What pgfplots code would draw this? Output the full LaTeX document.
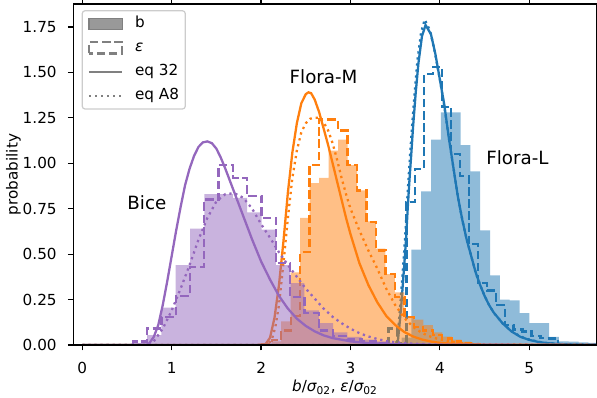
\documentclass[border=0pt]{standalone}
\usepackage{fontspec}
\setmainfont{DejaVu Sans}
\usepackage{pgfplots}
\pgfplotsset{compat=1.18}

\definecolor{cL}{HTML}{1F77B4}
\definecolor{cM}{HTML}{FF7F0E}
\definecolor{cB}{HTML}{9467BD}
\definecolor{lgray}{HTML}{808080}
\definecolor{frame}{HTML}{CCCCCC}

\newcommand{\lgfont}{\fontsize{11}{13}\selectfont}

\pgfplotsset{
  hfill/.style={const plot, draw=none, fill=#1, fill opacity=0.5, forget plot},
  hstep/.style={const plot, draw=#1, line width=1.65pt, dash pattern=on 6.1pt off 2.64pt, forget plot},
  eqA/.style={draw=#1, line width=1.65pt, forget plot},
  eqB/.style={draw=#1, line width=1.65pt, dash pattern=on 1.65pt off 2.72pt, forget plot},
}

\begin{document}
\begin{tikzpicture}
\begin{axis}[
  scale only axis, width=5.232in, height=3.41in,
  xmin=-0.1007, xmax=5.752, ymin=0, ymax=1.876,
  axis on top,
  axis line style={line width=0.88pt},
  tick align=outside, major tick length=3.85pt,
  tick style={line width=0.88pt, black},
  xtick={0,1,2,3,4,5},
  ytick={0,0.25,0.5,0.75,1,1.25,1.5,1.75},
  /pgf/number format/assume math mode=true,
  ticklabel style={font=\lgfont},
  xticklabel style={anchor=north, inner sep=0pt, yshift=-8.2pt},
  yticklabel style={anchor=east, inner sep=0pt, xshift=-8pt,
    /pgf/number format/fixed, /pgf/number format/fixed zerofill, /pgf/number format/precision=2},
  label style={font=\lgfont},
  xlabel={{\itshape b}/{\itshape σ}\textsubscript{02}, {\itshape ε}/{\itshape σ}\textsubscript{02}},
  ylabel={probability},
  xlabel style={at={(axis description cs:0.5,-0.124)}, anchor=center},
  ylabel style={at={(axis description cs:-0.1143,0.5)}, anchor=center},
  legend cell align=left,
  legend style={at={(axis description cs:0.016,0.982)}, anchor=north west,
    draw=frame, line width=0.88pt, rounded corners=2pt, fill=white, fill opacity=0.8, text opacity=1,
    font=\lgfont, inner xsep=4pt, inner ysep=3.5pt,
    row sep=5.6pt, column sep=8pt,
    nodes={inner sep=0.5pt, text height=8.2pt, text depth=2.6pt}},
]

% ---- Flora-L ----
\addplot[hfill=cL] coordinates {(3.461,0.005) (3.571,0.04) (3.681,0.525) (3.791,0.845) (3.901,1.13) (4.011,1.28) (4.121,1.28) (4.231,1.10) (4.341,0.955) (4.451,0.63) (4.561,0.383) (4.671,0.25) (4.781,0.245) (4.891,0.175) (5.001,0.12) (5.111,0.12) (5.221,0.045) (5.331,0.02) (5.441,0.018) (5.551,0.015) (5.661,0.012) (5.771,0)} \closedcycle;
\addplot[hstep=cL] coordinates {(3.425,0) (3.425,0.09) (3.525,0.01) (3.625,0.786) (3.725,0.97) (3.825,1.49) (3.925,1.53) (4.025,1.31) (4.125,1.05) (4.225,0.93) (4.325,0.555) (4.425,0.34) (4.525,0.30) (4.625,0.22) (4.725,0.11) (4.825,0.085) (4.925,0.075) (5.025,0.05) (5.125,0.037) (5.225,0.035) (5.325,0)};
\addplot[eqA=cL] coordinates {(0,0) (3.40,0) (3.50,0.003) (3.53,0.02) (3.55,0.12) (3.57,0.23) (3.60,0.43) (3.62,0.57) (3.64,0.75) (3.66,0.91) (3.68,1.05) (3.70,1.20) (3.73,1.39) (3.76,1.55) (3.80,1.70) (3.84,1.76) (3.90,1.71) (3.95,1.60) (4.00,1.46) (4.05,1.32) (4.10,1.14) (4.15,0.98) (4.20,0.82) (4.25,0.69) (4.30,0.58) (4.35,0.49) (4.40,0.40) (4.45,0.33) (4.50,0.27) (4.55,0.22) (4.60,0.18) (4.70,0.12) (4.80,0.075) (4.90,0.045) (5.00,0.028) (5.10,0.017) (5.20,0.01) (5.40,0.004) (5.70,0.001) (6.00,0)};
\addplot[eqB=cL] coordinates {(0,0) (3.40,0) (3.49,0.003) (3.52,0.02) (3.54,0.12) (3.56,0.24) (3.59,0.44) (3.61,0.58) (3.63,0.76) (3.65,0.92) (3.67,1.07) (3.69,1.21) (3.72,1.40) (3.75,1.57) (3.79,1.72) (3.83,1.79) (3.89,1.73) (3.94,1.62) (4.00,1.46) (4.05,1.31) (4.10,1.14) (4.15,0.98) (4.20,0.82) (4.25,0.69) (4.30,0.58) (4.35,0.49) (4.40,0.40) (4.45,0.33) (4.50,0.27) (4.55,0.22) (4.60,0.18) (4.70,0.12) (4.80,0.077) (4.90,0.047) (5.00,0.03) (5.10,0.018) (5.20,0.011) (5.40,0.004) (5.70,0.001) (6.00,0)};

% ---- Flora-M ----
\addplot[hfill=cM] coordinates {(2.013,0.005) (2.119,0.02) (2.225,0.13) (2.331,0.40) (2.437,0.70) (2.543,0.89) (2.649,0.92) (2.755,1.07) (2.861,1.13) (2.967,0.99) (3.073,0.85) (3.179,0.68) (3.285,0.53) (3.391,0.39) (3.497,0.29) (3.603,0.155) (3.709,0.14) (3.815,0.11) (3.921,0.07) (4.027,0.046) (4.133,0.03) (4.239,0.018) (4.345,0.01) (4.451,0.005) (4.557,0)} \closedcycle;
\addplot[hstep=cM] coordinates {(2.013,0) (2.013,0.005) (2.119,0.027) (2.225,0.08) (2.331,0.16) (2.437,0.51) (2.543,0.99) (2.649,1.24) (2.755,1.24) (2.861,1.18) (2.967,0.99) (3.073,0.85) (3.179,0.675) (3.285,0.52) (3.391,0.39) (3.497,0.265) (3.603,0.155) (3.709,0.10) (3.815,0.08) (3.921,0.055) (4.027,0.035) (4.133,0.02) (4.239,0.012) (4.345,0.006) (4.451,0)};
\addplot[eqA=cM] coordinates {(0,0) (1.95,0) (2.05,0.005) (2.10,0.04) (2.15,0.15) (2.20,0.33) (2.25,0.57) (2.30,0.84) (2.35,1.06) (2.40,1.22) (2.45,1.33) (2.50,1.38) (2.53,1.39) (2.56,1.385) (2.60,1.35) (2.65,1.28) (2.70,1.19) (2.75,1.10) (2.80,1.00) (2.85,0.90) (2.90,0.80) (2.95,0.70) (3.00,0.61) (3.10,0.45) (3.20,0.33) (3.30,0.235) (3.40,0.16) (3.50,0.11) (3.60,0.072) (3.70,0.047) (3.80,0.03) (3.90,0.019) (4.00,0.012) (4.20,0.005) (4.50,0.0015) (6.00,0)};
\addplot[eqB=cM] coordinates {(0,0) (2.00,0) (2.08,0.005) (2.12,0.03) (2.16,0.10) (2.20,0.22) (2.25,0.45) (2.30,0.70) (2.35,0.92) (2.40,1.07) (2.45,1.17) (2.50,1.22) (2.55,1.245) (2.60,1.25) (2.65,1.25) (2.70,1.225) (2.75,1.18) (2.80,1.11) (2.85,1.02) (2.90,0.92) (2.95,0.83) (3.00,0.75) (3.10,0.63) (3.20,0.52) (3.30,0.42) (3.40,0.31) (3.50,0.22) (3.60,0.15) (3.70,0.10) (3.80,0.066) (3.90,0.045) (4.00,0.03) (4.20,0.012) (4.50,0.003) (6.00,0)};

% ---- Bice ----
\addplot[hfill=cB] coordinates {(0.565,0.01) (0.725,0.055) (0.885,0.205) (1.045,0.44) (1.205,0.64) (1.365,0.83) (1.525,0.83) (1.685,0.81) (1.845,0.73) (2.005,0.635) (2.165,0.44) (2.325,0.34) (2.485,0.19) (2.645,0.12) (2.805,0.07) (2.965,0.045) (3.125,0.03) (3.285,0.02) (3.445,0.01) (3.605,0.005) (3.765,0)} \closedcycle;
\addplot[hstep=cB] coordinates {(0.565,0) (0.565,0.02) (0.725,0.09) (0.885,0.155) (1.045,0.27) (1.205,0.43) (1.365,0.80) (1.525,0.99) (1.685,0.92) (1.845,0.82) (2.005,0.70) (2.165,0.45) (2.325,0.265) (2.485,0.175) (2.645,0.08) (2.805,0.05) (2.965,0.03) (3.125,0.02) (3.285,0.01) (3.445,0)};
\addplot[eqA=cB] coordinates {(0,0) (0.60,0) (0.72,0.002) (0.75,0.01) (0.80,0.045) (0.85,0.11) (0.90,0.22) (0.95,0.35) (1.00,0.49) (1.05,0.63) (1.10,0.76) (1.15,0.88) (1.20,0.97) (1.25,1.04) (1.30,1.09) (1.35,1.115) (1.40,1.12) (1.45,1.11) (1.50,1.08) (1.55,1.03) (1.60,0.97) (1.70,0.84) (1.80,0.71) (1.90,0.58) (2.00,0.46) (2.10,0.36) (2.20,0.27) (2.30,0.20) (2.40,0.145) (2.50,0.105) (2.60,0.075) (2.70,0.053) (2.80,0.038) (3.00,0.02) (3.20,0.01) (3.50,0.004) (4.00,0.001) (6.00,0)};
\addplot[eqB=cB] coordinates {(0,0) (0.70,0) (0.76,0.005) (0.80,0.02) (0.90,0.09) (1.00,0.19) (1.10,0.31) (1.20,0.44) (1.30,0.58) (1.40,0.70) (1.50,0.79) (1.60,0.83) (1.70,0.835) (1.80,0.81) (1.90,0.75) (2.00,0.665) (2.10,0.59) (2.20,0.51) (2.30,0.44) (2.40,0.375) (2.50,0.31) (2.60,0.255) (2.70,0.20) (2.80,0.155) (2.90,0.12) (3.00,0.09) (3.10,0.065) (3.20,0.047) (3.30,0.033) (3.40,0.022) (3.50,0.015) (3.70,0.007) (4.00,0.002) (6.00,0)};

% ---- names of the three samples ----
\node[font=\fontsize{13.2}{15}\selectfont] at (axis cs:0.722,0.782) {Bice};
\node[font=\fontsize{13.2}{15}\selectfont] at (axis cs:2.699,1.476) {Flora-M};
\node[font=\fontsize{13.2}{15}\selectfont] at (axis cs:4.868,1.031) {Flora-L};

% ---- legend ----
\addlegendimage{legend image code/.code={\fill[lgray, sharp corners] (0pt,-4pt) rectangle (24pt,4pt);}}
\addlegendentry{\lgfont b}
\addlegendimage{legend image code/.code={\draw[lgray, sharp corners, line width=1.65pt, dash pattern=on 6.1pt off 2.64pt] (0pt,-4pt) rectangle (24pt,4pt);}}
\addlegendentry{\lgfont\itshape ε}
\addlegendimage{legend image code/.code={\draw[lgray, sharp corners, line width=1.65pt] (0pt,0pt) -- (24pt,0pt);}}
\addlegendentry{\lgfont eq 32}
\addlegendimage{legend image code/.code={\draw[lgray, sharp corners, line width=1.65pt, dash pattern=on 1.65pt off 2.72pt] (0pt,0pt) -- (24pt,0pt);}}
\addlegendentry{\lgfont eq A8}
\end{axis}
\pgfresetboundingbox
\path[use as bounding box] (-0.733in,-0.53in) rectangle (5.237in,3.45in);
\end{tikzpicture}
\end{document}
